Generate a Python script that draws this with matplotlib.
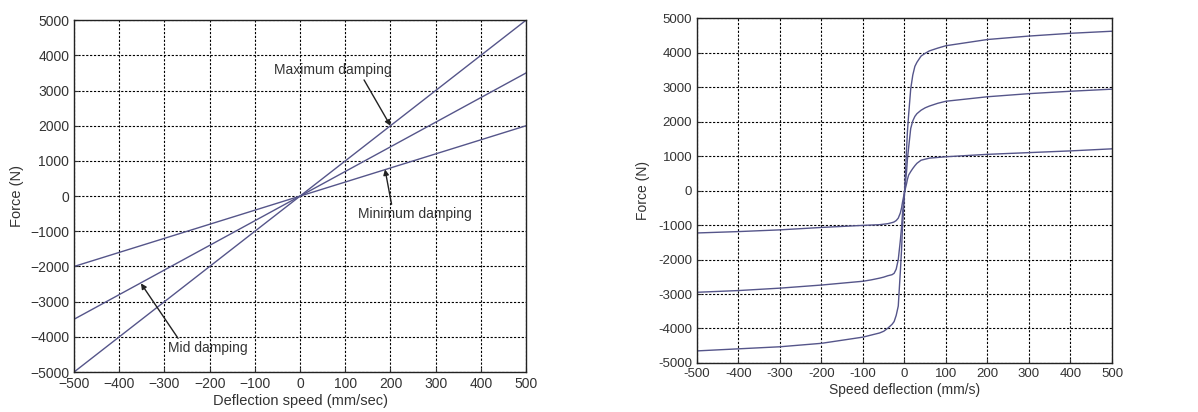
import matplotlib.pyplot as plt
from matplotlib.ticker import FuncFormatter

plt.rcParams['font.family'] = ['Liberation Sans', 'DejaVu Sans']

# left chart: linear dampers
x_lineal = [-500, 500]
f_minimo = [-2000, 2000]
f_medio = [-3500, 3500]
f_maximo = [-5000, 5000]

# right chart: non-linear dampers
x_curva = [-500, -400, -300, -200, -100, -80, -60, -50, -40, -30, -25, -20, -15, -10, -7, -5, 0,
           5, 7, 10, 15, 20, 25, 30, 40, 50, 60, 80, 100, 200, 300, 400, 500]
f_curva_max = [-4650, -4590, -4530, -4430, -4250, -4190, -4130, -4080, -3990, -3880, -3800, -3620,
               -3350, -2350, -1700, -1100, -100,
               1200, 1700, 2200, 2950, 3350, 3600, 3720, 3900, 3980, 4050, 4130, 4200,
               4380, 4480, 4560, 4620]
f_curva_med = [-2950, -2900, -2830, -2740, -2630, -2590, -2540, -2510, -2470, -2440, -2400, -2280,
               -2000, -1450, -1050, -700, -50,
               550, 900, 1250, 1800, 2020, 2150, 2230, 2330, 2400, 2450, 2530, 2590,
               2720, 2810, 2880, 2940]
f_curva_min = [-1230, -1190, -1140, -1070, -1010, -1000, -990, -975, -960, -930, -910, -870,
               -800, -650, -500, -350, -50,
               200, 320, 450, 550, 640, 720, 790, 880, 910, 940, 960, 980,
               1050, 1100, 1150, 1210]

ticks_x = [-500, -400, -300, -200, -100, 0, 100, 200, 300, 400, 500]
ticks_y = [-5000, -4000, -3000, -2000, -1000, 0, 1000, 2000, 3000, 4000, 5000]

color_linea = '#55558a'
color_texto = '#333333'


def estilo(ax, menos):
    ax.set_xlim(-500, 500)
    ax.set_ylim(-5000, 5000)
    ax.set_xticks(ticks_x)
    ax.set_yticks(ticks_y)
    fmt = FuncFormatter(lambda v, p: (menos + str(int(abs(v)))) if v < 0 else str(int(v)))
    ax.xaxis.set_major_formatter(fmt)
    ax.yaxis.set_major_formatter(fmt)
    ax.grid(True, color='black', linestyle=(0, (2, 1.5)), linewidth=0.8)
    ax.tick_params(direction='in', length=3, colors=color_texto, labelsize=10)
    for s in ax.spines.values():
        s.set_linewidth(1.0)
        s.set_color('#222222')


fig = plt.figure(figsize=(11.98, 4.12), dpi=100)

ax1 = fig.add_axes([0.0618, 0.097, 0.3773, 0.854])
ax1.plot(x_lineal, f_maximo, color=color_linea, lw=1.0)
ax1.plot(x_lineal, f_medio, color=color_linea, lw=1.0)
ax1.plot(x_lineal, f_minimo, color=color_linea, lw=1.0)
estilo(ax1, '\u2212')
ax1.set_xlabel('Deflection speed (mm/sec)', color=color_texto, fontsize=10.5, labelpad=2)
ax1.set_ylabel('Force (N)', color=color_texto, fontsize=10.5, labelpad=4)

flecha = dict(arrowstyle='-|>', color='#222222', lw=1.0, mutation_scale=8, shrinkA=0, shrinkB=0)
ax1.annotate('Maximum damping', xy=(200, 2000), xytext=(73, 3580),
             ha='center', va='center', fontsize=10, color=color_texto,
             arrowprops=dict(flecha, relpos=(0.75, 0.0)))
ax1.annotate('Minimum damping', xy=(188, 760), xytext=(254, -510),
             ha='center', va='center', fontsize=10, color=color_texto,
             arrowprops=dict(flecha, relpos=(0.3, 1.0)))
ax1.annotate('Mid damping', xy=(-352, -2480), xytext=(-204, -4320),
             ha='center', va='center', fontsize=10, color=color_texto,
             arrowprops=dict(flecha, relpos=(0.15, 1.0)))

ax2 = fig.add_axes([0.5818, 0.119, 0.3464, 0.837])
ax2.plot(x_curva, f_curva_max, color=color_linea, lw=1.0)
ax2.plot(x_curva, f_curva_med, color=color_linea, lw=1.0)
ax2.plot(x_curva, f_curva_min, color=color_linea, lw=1.0)
estilo(ax2, '-')
ax2.tick_params(labelsize=9.5)
ax2.set_xlabel('Speed deflection (mm/s)', color=color_texto, fontsize=10, labelpad=2)
ax2.set_ylabel('Force (N)', color=color_texto, fontsize=10, labelpad=6)

fig.savefig('out.png', dpi=100)
